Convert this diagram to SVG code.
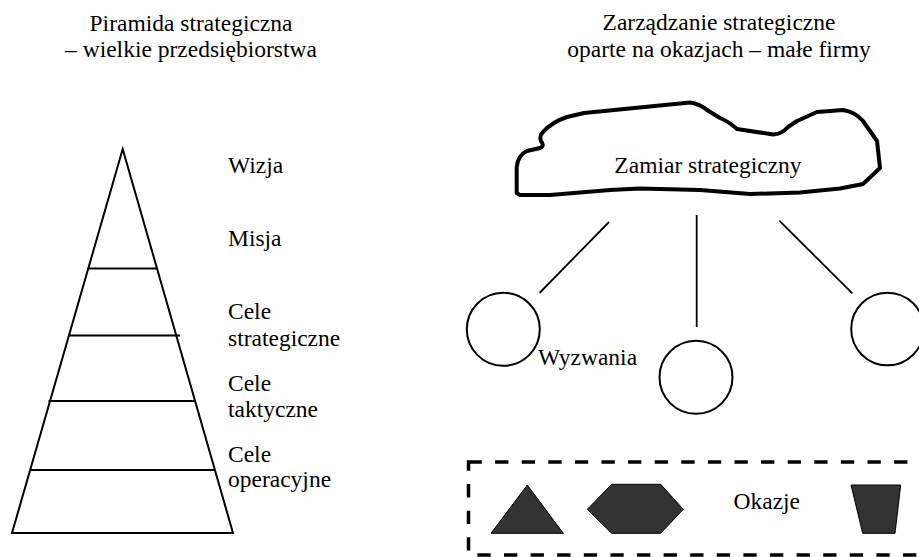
<svg xmlns="http://www.w3.org/2000/svg" width="919" height="557" viewBox="0 0 919 557">
<style>
text{font-family:'Liberation Serif','Times New Roman','DejaVu Serif',serif;font-size:23.5px;fill:#000}
.c{text-anchor:middle}
.ln{stroke:#000;stroke-width:2;fill:none}
.cn{stroke:#000;stroke-width:1.8;fill:none}
.sh{fill:#333;stroke:#000;stroke-width:1}
</style>
<rect width="919" height="557" fill="#fff"/>
<g font-family="Liberation Serif, serif">
<g id="title-left">
<text class="c" x="191" y="31">Piramida strategiczna</text>
<text class="c" x="191" y="57">– wielkie przedsiębiorstwa</text>
</g>
<g id="title-right">
<text class="c" x="719" y="30">Zarządzanie strategiczne</text>
<text class="c" x="719" y="57">oparte na okazjach – małe firmy</text>
</g>
<g id="pyramid">
<polygon class="ln" points="122.7,149 233,533 12,533"/>
<line class="ln" x1="87.7" y1="268.5" x2="156.7" y2="268.5"/>
<line class="ln" x1="68.5" y1="335.5" x2="180" y2="335.5"/>
<line class="ln" x1="48.5" y1="401" x2="195" y2="401"/>
<line class="ln" x1="30" y1="470" x2="215" y2="470"/>
</g>
<g id="pyramid-labels">
<text x="228" y="173">Wizja</text>
<text x="228" y="246">Misja</text>
<text x="228" y="319">Cele</text>
<text x="228" y="346">strategiczne</text>
<text x="228" y="391">Cele</text>
<text x="228" y="417">taktyczne</text>
<text x="228" y="462">Cele</text>
<text x="228" y="487">operacyjne</text>
</g>
<g id="cloud">
<path d="M516.7,193 L516.7,167 Q518,155 527,151 L540,148 Q545,146 541,141 Q539,136 543,132 Q552,122 567,117 L584,113 L690,102.5 Q700,104 707,110 L720,118 Q728,121 737,129 L773,134.5 Q782,134 788,127 L797,121 L817,112 L843,110 Q855,112 863,121 L877,141 L880,168 L863,184 L840,188.5 L800,192.5 L750,194 L700,190 L640,188.5 L610,190 L550,195 L520,195 Z" fill="#fff" stroke="#000" stroke-width="4" stroke-linejoin="round"/>
<text class="c" x="708" y="173">Zamiar strategiczny</text>
</g>
<g id="connectors">
<line class="cn" x1="609" y1="222" x2="539.5" y2="293"/>
<line class="cn" x1="696.7" y1="215" x2="696.7" y2="327"/>
<line class="cn" x1="779.3" y1="220.7" x2="852.3" y2="293.3"/>
</g>
<g id="circle-left"><circle class="ln" cx="503.3" cy="329.3" r="36.5"/></g>
<g id="circle-middle"><circle class="ln" cx="696" cy="377.3" r="36.5"/></g>
<g id="circle-right"><circle class="ln" cx="887.5" cy="329" r="36.3"/></g>
<g id="label-wyzwania"><text x="538" y="365">Wyzwania</text></g>
<g id="okazje">
<rect x="468.5" y="462" width="470" height="93" fill="none" stroke="#000" stroke-width="3.5" stroke-dasharray="13.3,13.3"/>
<polygon class="sh" points="527.3,485 563.3,533.3 491,533.3"/>
<polygon class="sh" points="587.3,509.3 611.7,484.3 660.7,484.3 683.3,509.3 660.7,533.3 611.7,533.3"/>
<polygon class="sh" points="851,485 900.7,485 895,533.3 862.7,533.3"/>
<text x="733.5" y="508.5">Okazje</text>
</g>
</g>
</svg>
